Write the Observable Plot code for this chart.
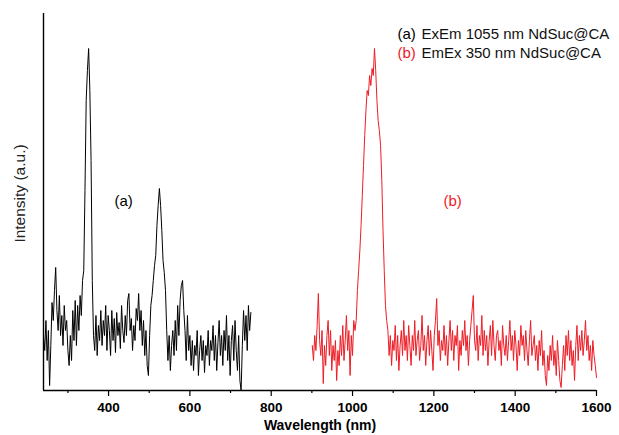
<!DOCTYPE html>
<html>
<head>
<meta charset="utf-8">
<script src="https://cdn.jsdelivr.net/npm/d3@7"></script>
<script src="https://cdn.jsdelivr.net/npm/@observablehq/plot@0.6"></script>
<style>
  html, body { margin: 0; padding: 0; background: #fff; }
  svg { font-family: "Liberation Sans", Arial, sans-serif; }
</style>
</head>
<body>
<script>
// Series (a): ExEm 1055 nm NdSuc@CA — wavelengths 240..750 nm, step 3 nm
const startA = 240, stepA = 3;
const valuesA = [
  55, 40, 70, 30, 60, 5,
  45, 88, 70, 100, 123,
  80, 60, 95, 55, 75, 45, 85, 60, 70, 40, 25, 55, 30, 80, 50, 90, 45, 85, 60, 95,
  75, 110, 120, 200, 290,
  320, 342, 300, 230, 110, 55,
  40, 75, 35, 65, 50, 80, 45, 70, 55, 85, 40, 75, 60, 35, 80, 50, 72, 38, 78, 55,
  68, 42, 85, 60, 48, 75, 55, 90, 97, 60, 72, 40, 65, 50, 82, 70, 97, 60, 80, 45,
  70, 35, 60, 25, 15, 55,
  85, 95, 110, 125, 135, 165, 185, 202,
  185, 160, 130, 118, 100, 60,
  30, 55, 20, 45, 60, 35, 70, 40, 85, 55, 90,
  105, 110, 80,
  60, 30, 75, 40, 55, 25, 50, 20, 45, 35, 60, 15, 40, 55, 30, 50, 18, 45, 35, 60,
  25, 50, 40, 65, 30, 55, 20, 48, 70, 35, 55, 25, 60, 40, 75, 30, 55, 15, 50, 65,
  30, 70, 40, 20, 55, 10, 0, 45, 80, 50, 75, 40, 85, 60, 78
];

// Series (b): EmEx 350 nm NdSuc@CA — wavelengths 901..1600 nm, step 3 nm
const startB = 901, stepB = 3;
const valuesB = [
  45, 30, 55, 40, 65, 97, 50, 35, 60, 7, 45, 25, 55, 70, 35, 60, 20, 45, 30, 50,
  10, 40, 25, 55, 35, 65, 30, 50, 75, 40, 60, 15, 55, 35, 70, 60,
  70, 100, 120, 140, 165, 195, 225, 255, 280, 300, 295, 315, 305, 322, 315, 342, 320, 290,
  270, 260, 245, 210, 160, 120, 85, 70,
  60, 35, 55, 25, 50, 40, 65, 30, 55, 20,
  45, 60, 35, 70, 40, 55, 30, 65, 45, 25,
  55, 40, 70, 35, 50, 60, 30, 45, 75, 40,
  55, 25, 50, 65, 35, 60, 40, 20, 55, 70,
  92, 45, 60, 30, 50, 40, 65, 35, 55, 25,
  50, 70, 40, 60, 30, 55, 45, 65, 20, 50,
  35, 60, 45, 70, 40, 55, 25, 50, 65, 80,
  95, 50, 40, 65, 30, 55, 45, 75, 35, 60,
  40, 55, 25, 50, 65, 35, 70, 45, 30, 55,
  60, 40, 50, 25, 65, 45, 35, 55, 30, 50,
  70, 40, 55, 30, 60, 45, 20, 50, 35, 65,
  45, 55, 30, 60, 40, 25, 50, 70, 35, 45,
  55, 30, 45, 20, 50, 35, 60, 25, 40, 15,
  5, 35, 20, 45, 30, 55, 25, 40, 15, 50,
  30, 10, 3, 25, 45, 20, 55, 35, 60, 30,
  50, 25, 40, 10, 45, 65, 30, 55, 40, 60,
  35, 50, 70, 40, 55, 30, 45, 20, 50, 35,
  25, 13
];

const xMajorTicks = [400, 600, 800, 1000, 1200, 1400, 1600];
const xMinorTicks = [300, 500, 700, 900, 1100, 1300, 1500];
const xDomain = [240, 1600];
const yDomain = [0, 377];

const legendLabels = ["(a)", "(b)"];
const legendTexts = ["ExEm 1055 nm NdSuc@CA", "EmEx 350 nm NdSuc@CA"];
const annotX = [437, 1246];
const annotY = [189, 189];
const colorA = "#000000";
const colorB = "#ee1c25";

const dataA = valuesA.map((v, i) => ({w: startA + stepA * i, v}));
const dataB = valuesB.map((v, i) => ({w: startB + stepB * i, v}));
const annots = legendLabels.map((t, i) => ({t, x: annotX[i], y: annotY[i], c: i === 0 ? colorA : colorB}));

const chart = Plot.plot({
  width: 619,
  height: 435,
  marginLeft: 43,
  marginRight: 23,
  marginTop: 13,
  marginBottom: 45,
  style: {fontFamily: "'Liberation Sans', Arial, sans-serif", background: "#fff", color: "#000"},
  x: {domain: xDomain, axis: null, label: null},
  y: {domain: yDomain, axis: null, label: null},
  marks: [
    Plot.line(dataA, {x: "w", y: "v", stroke: colorA, strokeWidth: 1}),
    Plot.line(dataB, {x: "w", y: "v", stroke: colorB, strokeWidth: 1}),
    Plot.ruleX([xDomain[0]], {stroke: "#000", strokeWidth: 1.4}),
    Plot.ruleY([yDomain[0]], {stroke: "#000", strokeWidth: 1.4}),
    Plot.axisX({ticks: xMinorTicks, tickSize: 3, tickFormat: () => "", label: null, strokeWidth: 1.2}),
    Plot.axisX({ticks: xMajorTicks, tickSize: 6, tickPadding: 6, tickFormat: "d", label: null,
      fontSize: 13.5, fontWeight: "bold", strokeWidth: 1.2}),
    Plot.text(["Wavelength (nm)"], {frameAnchor: "bottom", lineAnchor: "middle", dy: 35, fontSize: 14, fontWeight: "bold", fill: "#000"}),
    Plot.text(["Intensity (a.u.)"], {frameAnchor: "left", textAnchor: "middle", lineAnchor: "middle", dx: -23, dy: -8.5, rotate: -90, fontSize: 15.5, fill: "#222"}),
    Plot.text(annots, {x: "x", y: "y", text: "t", fill: "c", fontSize: 15}),
    Plot.text([legendLabels[0]], {frameAnchor: "top-left", lineAnchor: "middle", dx: 354, dy: 21, textAnchor: "start", fontSize: 15, fill: colorA}),
    Plot.text([legendTexts[0]], {frameAnchor: "top-left", lineAnchor: "middle", dx: 378, dy: 21, textAnchor: "start", fontSize: 15, fill: "#111"}),
    Plot.text([legendLabels[1]], {frameAnchor: "top-left", lineAnchor: "middle", dx: 354, dy: 40, textAnchor: "start", fontSize: 15, fill: colorB}),
    Plot.text([legendTexts[1]], {frameAnchor: "top-left", lineAnchor: "middle", dx: 378, dy: 40, textAnchor: "start", fontSize: 15, fill: "#111"})
  ]
});
document.body.append(chart);
</script>
</body>
</html>
